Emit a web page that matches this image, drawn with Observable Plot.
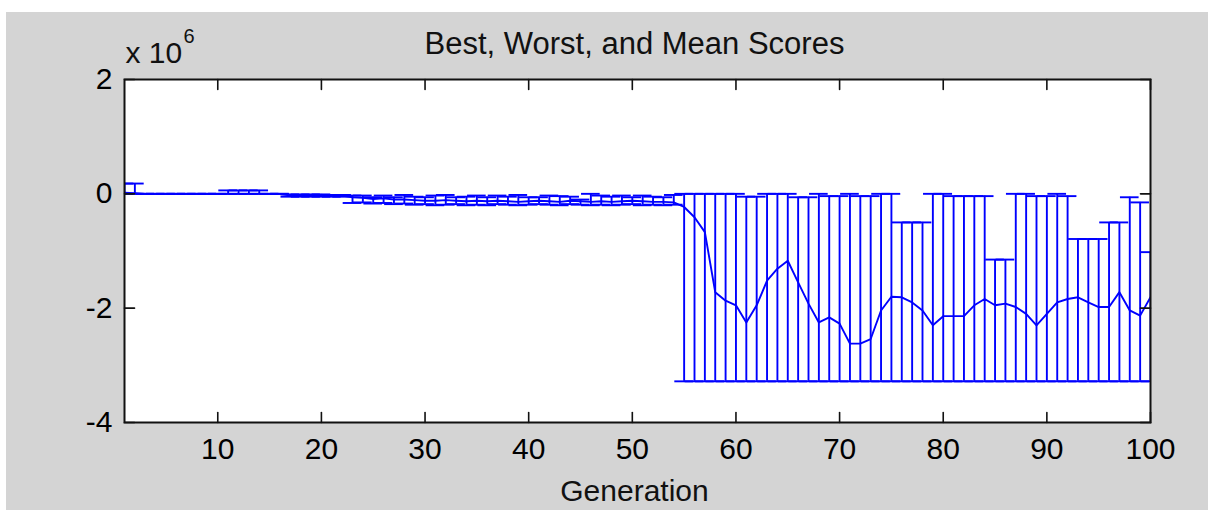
<!DOCTYPE html>
<html><head><meta charset="utf-8">
<script src="https://cdn.jsdelivr.net/npm/d3@7"></script>
<script src="https://cdn.jsdelivr.net/npm/@observablehq/plot@0.6"></script>
<style>
html,body{margin:0;padding:0;background:#fff;width:1208px;height:510px;overflow:hidden}
#chart{position:absolute;left:6px;top:12px;}
</style></head><body><div id="chart"></div>
<script>
const generation = [1,2,3,4,5,6,7,8,9,10,11,12,13,14,15,16,17,18,19,20,21,22,23,24,25,26,27,28,29,30,31,32,33,34,35,36,37,38,39,40,41,42,43,44,45,46,47,48,49,50,51,52,53,54,55,56,57,58,59,60,61,62,63,64,65,66,67,68,69,70,71,72,73,74,75,76,77,78,79,80,81,82,83,84,85,86,87,88,89,90,91,92,93,94,95,96,97,98,99,100];
// scores in units of 1e6
const worstScore = [0.18,0.18,0.00,0.00,0.00,0.00,0.00,0.00,0.00,0.00,
 0.06,0.06,0.06,0.06,0.00,0.00,-0.01,-0.01,-0.01,-0.01,
 -0.02,-0.02,-0.03,-0.03,-0.06,-0.03,-0.06,-0.02,-0.05,-0.06,
 -0.03,-0.02,-0.06,-0.05,-0.03,-0.06,-0.03,-0.05,-0.02,-0.06,
 -0.06,-0.03,-0.04,-0.05,-0.10,0.00,-0.03,-0.05,-0.03,-0.06,
 -0.03,-0.05,-0.06,-0.02,
 0.00,0.00,0.00,0.00,0.00,0.00,-0.05,-0.05,0.00,0.00,
 0.00,-0.06,-0.06,0.00,-0.04,-0.04,0.00,-0.04,-0.04,0.00,
 0.00,-0.50,-0.50,-0.50,0.00,0.00,-0.04,-0.04,-0.04,-0.04,
 -1.15,-1.15,0.00,0.00,-0.04,-0.04,0.00,-0.04,-0.79,-0.79,
 -0.79,-0.50,-0.50,-0.06,-0.15,-1.02];
const meanScore = [0.02,0.01,0,0,0,0,0,0,0,0,
 0,0,0,0,0,0,-0.03,-0.03,-0.03,-0.03,
 -0.03,-0.03,-0.06,-0.07,-0.09,-0.08,-0.10,-0.10,-0.11,-0.12,
 -0.12,-0.11,-0.12,-0.13,-0.12,-0.13,-0.12,-0.13,-0.14,-0.13,
 -0.12,-0.13,-0.14,-0.12,-0.13,-0.14,-0.13,-0.14,-0.13,-0.12,
 -0.13,-0.14,-0.14,-0.15,
 -0.23,-0.41,-0.67,-1.72,-1.87,-1.95,-2.25,-1.95,-1.52,-1.31,
 -1.17,-1.55,-1.92,-2.25,-2.16,-2.27,-2.62,-2.62,-2.54,-2.04,
 -1.80,-1.81,-1.90,-2.04,-2.30,-2.14,-2.14,-2.14,-1.95,-1.84,
 -1.95,-1.92,-1.98,-2.10,-2.30,-2.10,-1.90,-1.84,-1.81,-1.90,
 -1.98,-1.98,-1.72,-2.04,-2.13,-1.81];
const bestScore = [0,0,0,0,0,0,0,0,0,0,
 0,0,0,0,0,0,-0.05,-0.05,-0.05,-0.05,
 -0.05,-0.05,-0.16,-0.15,-0.17,-0.16,-0.18,-0.17,-0.19,-0.18,
 -0.20,-0.19,-0.18,-0.20,-0.19,-0.20,-0.18,-0.19,-0.20,-0.19,
 -0.18,-0.19,-0.20,-0.18,-0.19,-0.20,-0.19,-0.20,-0.19,-0.18,
 -0.20,-0.19,-0.20,-0.19,
 -3.28,-3.28,-3.28,-3.28,-3.28,-3.28,-3.28,-3.28,-3.28,-3.28,
 -3.28,-3.28,-3.28,-3.28,-3.28,-3.28,-3.28,-3.28,-3.28,-3.28,
 -3.28,-3.28,-3.28,-3.28,-3.28,-3.28,-3.28,-3.28,-3.28,-3.28,
 -3.28,-3.28,-3.28,-3.28,-3.28,-3.28,-3.28,-3.28,-3.28,-3.28,
 -3.28,-3.28,-3.28,-3.28,-3.28,-3.28];
const xTicks = [10,20,30,40,50,60,70,80,90,100];
const yTicks = [-4,-2,0,2];
const titleText = "Best, Worst, and Mean Scores";
const xLabel = "Generation";
const scaleBase = "x 10";
const scaleExp = "6";

const rows = generation.map((g, i) => ({gen: g, worst: worstScore[i], mean: meanScore[i], best: bestScore[i]}));
const cap = 0.9;
const tickShape = {draw(ctx, l) { ctx.moveTo(0, 0); ctx.lineTo(0, -l); }};
const font = "'Liberation Sans', Arial, sans-serif";
const blue = "#0000ff";
const lw = 1.9;

const plot = Plot.plot({
  width: 1202, height: 498,
  marginLeft: 118, marginRight: 58, marginTop: 67, marginBottom: 88,
  style: {background: "#d4d4d4", fontFamily: font, color: "#000"},
  x: {domain: [1, 100]},
  y: {domain: [-4, 2]},
  marks: [
    Plot.frame({fill: "white", stroke: null}),
    Plot.ruleX(rows, {x: "gen", y1: "best", y2: "worst", stroke: blue, strokeWidth: lw, clip: true}),
    Plot.ruleY(rows, {y: "worst", x1: d => d.gen - cap, x2: d => d.gen + cap, stroke: blue, strokeWidth: lw, clip: true}),
    Plot.ruleY(rows, {y: "best", x1: d => d.gen - cap, x2: d => d.gen + cap, stroke: blue, strokeWidth: lw, clip: true}),
    Plot.line(rows, {x: "gen", y: "mean", stroke: blue, strokeWidth: lw, clip: true}),
    Plot.frame({stroke: "#111", strokeWidth: 2}),
    Plot.vector(xTicks, {x: d => d, frameAnchor: "bottom", anchor: "start", length: 10, rotate: 0, shape: tickShape, stroke: "#111", fill: "none", strokeWidth: 1.6}),
    Plot.vector(xTicks, {x: d => d, frameAnchor: "top", anchor: "start", length: 10, rotate: 180, shape: tickShape, stroke: "#111", fill: "none", strokeWidth: 1.6}),
    Plot.vector(yTicks, {y: d => d, frameAnchor: "left", anchor: "start", length: 10, rotate: 90, shape: tickShape, stroke: "#111", fill: "none", strokeWidth: 1.6}),
    Plot.vector(yTicks, {y: d => d, frameAnchor: "right", anchor: "start", length: 10, rotate: -90, shape: tickShape, stroke: "#111", fill: "none", strokeWidth: 1.6}),
    Plot.axisX(xTicks, {anchor: "bottom", tickSize: 0, tickPadding: 15, fontSize: 30, label: null, tickFormat: d => String(d)}),
    Plot.axisY(yTicks, {anchor: "left", tickSize: 0, tickPadding: 12, fontSize: 30, label: null, tickFormat: d => String(d)}),
    Plot.text([titleText], {frameAnchor: "top", lineAnchor: "bottom", dx: -3, dy: -26, fontSize: 31, fill: "#111"}),
    Plot.text([scaleBase], {frameAnchor: "top-left", textAnchor: "start", lineAnchor: "bottom", dx: 1, dy: -17, fontSize: 30, fill: "#111"}),
    Plot.text([scaleExp], {frameAnchor: "top-left", textAnchor: "start", lineAnchor: "bottom", dx: 59, dy: -37, fontSize: 20, fill: "#111"}),
    Plot.text([xLabel], {frameAnchor: "bottom", lineAnchor: "bottom", dx: -3, dy: 78, fontSize: 30, fill: "#111"})
  ]
});
document.getElementById("chart").appendChild(plot);
</script></body></html>
